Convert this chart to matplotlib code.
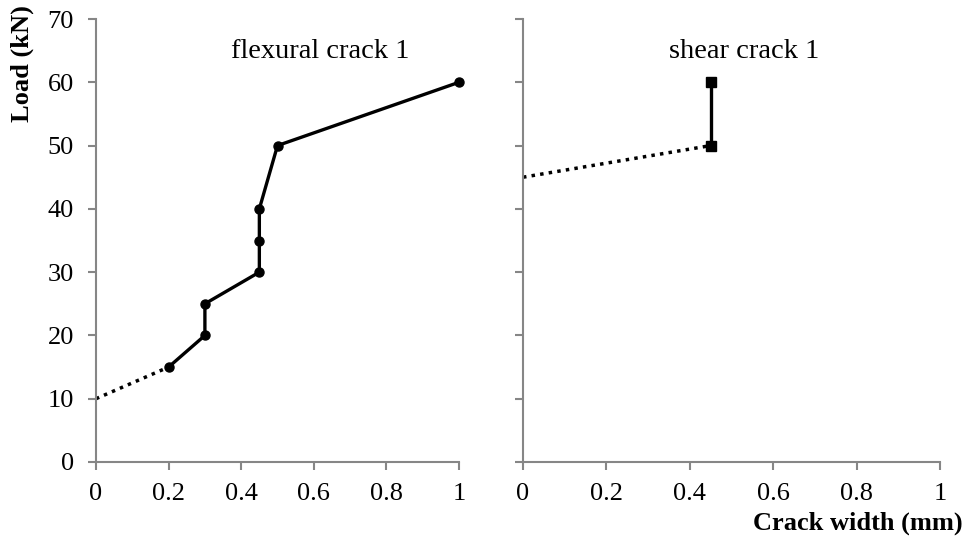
import matplotlib
matplotlib.use("Agg")
import matplotlib.pyplot as plt

flex_x = [0.2, 0.3, 0.3, 0.45, 0.45, 0.45, 0.5, 1.0]
flex_y = [15, 20, 25, 30, 35, 40, 50, 60]
flex_ext_x = [0.0, 0.2]
flex_ext_y = [10, 15]

shear_x = [0.45, 0.45]
shear_y = [50, 60]
shear_ext_x = [0.0, 0.45]
shear_ext_y = [45, 50]

xticks = [0, 0.2, 0.4, 0.6, 0.8, 1]
xticklabels = ["0", "0.2", "0.4", "0.6", "0.8", "1"]
yticks = [0, 10, 20, 30, 40, 50, 60, 70]

plt.rcParams['font.family'] = ['Liberation Serif', 'DejaVu Serif']

fig = plt.figure(figsize=(9.68, 5.41), dpi=100)
W, H = 968, 541
def ax_rect(x0, x1, y0, y1):
    return [x0 / W, 1 - y0 / H, (x1 - x0) / W, (y0 - y1) / H]

ax1 = fig.add_axes(ax_rect(96, 459, 462, 19))
ax2 = fig.add_axes(ax_rect(523, 940, 462, 19))

gray = '#868686'
for ax in (ax1, ax2):
    ax.set_xlim(0, 1)
    ax.set_ylim(0, 70)
    ax.set_xticks(xticks)
    ax.set_xticklabels(xticklabels)
    ax.set_yticks(yticks)
    for s in ('top', 'right'):
        ax.spines[s].set_visible(False)
    for s in ('left', 'bottom'):
        ax.spines[s].set_color(gray)
        ax.spines[s].set_linewidth(1.5)
    ax.tick_params(direction='out', length=6, width=1.5, color=gray,
                   labelsize=19)
    ax.tick_params(axis='x', pad=9)
    ax.tick_params(axis='y', pad=10)
    ax.spines['left'].set_clip_on(False)
    ax.spines['bottom'].set_clip_on(False)

ax2.set_yticklabels([])

dot = dict(color='black', lw=2.5, ls=(0, (1, 1.5)), clip_on=False)
ax1.plot(flex_ext_x, flex_ext_y, **dot)
ax1.plot(flex_x, flex_y, color='black', lw=2.4, marker='o', ms=6.5, clip_on=False)
ax2.plot(shear_ext_x, shear_ext_y, **dot)
ax2.plot(shear_x, shear_y, color='black', lw=2.4, marker='s', ms=6.5, clip_on=False)

fig.text(320 / W, 1 - 51 / H, "flexural crack 1", ha='center', va='center', fontsize=20.5)
fig.text(744 / W, 1 - 51 / H, "shear crack 1", ha='center', va='center', fontsize=20.5)
fig.text(22 / W, 1 - 5 / H, "Load (kN)", rotation=90, ha='center', va='top',
         fontsize=19, fontweight='bold')
fig.text(963 / W, 1 - 523 / H, "Crack width (mm)", ha='right', va='center',
         fontsize=19, fontweight='bold')

fig.savefig("out.png", dpi=100)
